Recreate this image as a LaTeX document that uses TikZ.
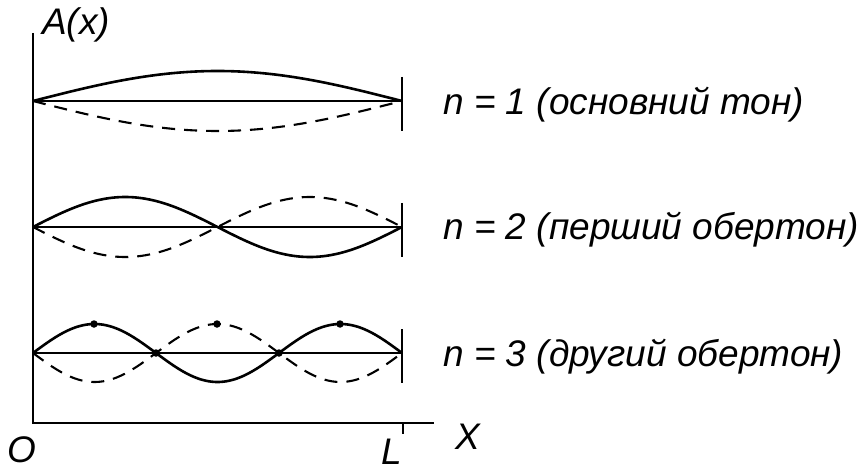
\documentclass[tikz,border=0pt]{standalone}
\usepackage{fontspec}
\setmainfont{Liberation Sans}
\usetikzlibrary{positioning}

\tikzset{
  axisline/.style={line width=2.4pt},
  baseline/.style={line width=1.5pt},
  mode/.style={line width=2.6pt},
  antimode/.style={line width=2.1pt, dash pattern=on 13pt off 9pt},
  lbl/.style={font=\fontsize{37}{40}\selectfont\itshape, inner sep=0pt},
  dot/.style={circle, fill, inner sep=0pt, minimum size=7.5pt}
}

\begin{document}
\begin{tikzpicture}[x=1pt, y=-1pt]
  \useasboundingbox (0,0) rectangle (859,473);

  % axes
  \coordinate (O) at (33,423);
  \coordinate (top) at (33,33);
  \coordinate (xend) at (434,423);
  \draw[axisline] (top) -- (O) -- (xend);
  \draw[baseline] (403,423) -- (403,434);

  \node[lbl] (ax) at (76,25) {A(x)};
  \node[lbl] (origin) at (22,450) {O};
  \node[lbl] (lend) at (392,452) {L};
  \node[lbl] (xax) at (468,437) {X};

  % standing waves, n = 1..3
  \foreach \n/\y/\a in {1/101/30, 2/227/30, 3/353/29}{
    \draw[baseline] (33,\y) -- (402,\y);
    \draw[baseline] (402,\y-24) -- (402,\y+30);
    \draw[mode] plot[domain=0:369, samples=80, smooth] ({33+\x},{\y-\a*sin(\n*\x/369*180)});
    \draw[antimode] plot[domain=0:369, samples=80, smooth] ({33+\x},{\y+\a*sin(\n*\x/369*180)});
  }

  % antinodes and nodes, n = 3
  \node[dot] (p1) at (94,324) {};
  \node[dot] (p2) at (217,324) {};
  \node[dot] (p3) at (340,324) {};
  \node[dot] (k1) at (156,353) {};
  \node[dot] (k2) at (279,353) {};

  \node[lbl, anchor=west] (t1) at (443,105) {n = 1 (основний тон)};
  \node[lbl, anchor=west] (t2) at (443,230) {n = 2 (перший обертон)};
  \node[lbl, anchor=west] (t3) at (443,357) {n = 3 (другий обертон)};
\end{tikzpicture}
\end{document}
